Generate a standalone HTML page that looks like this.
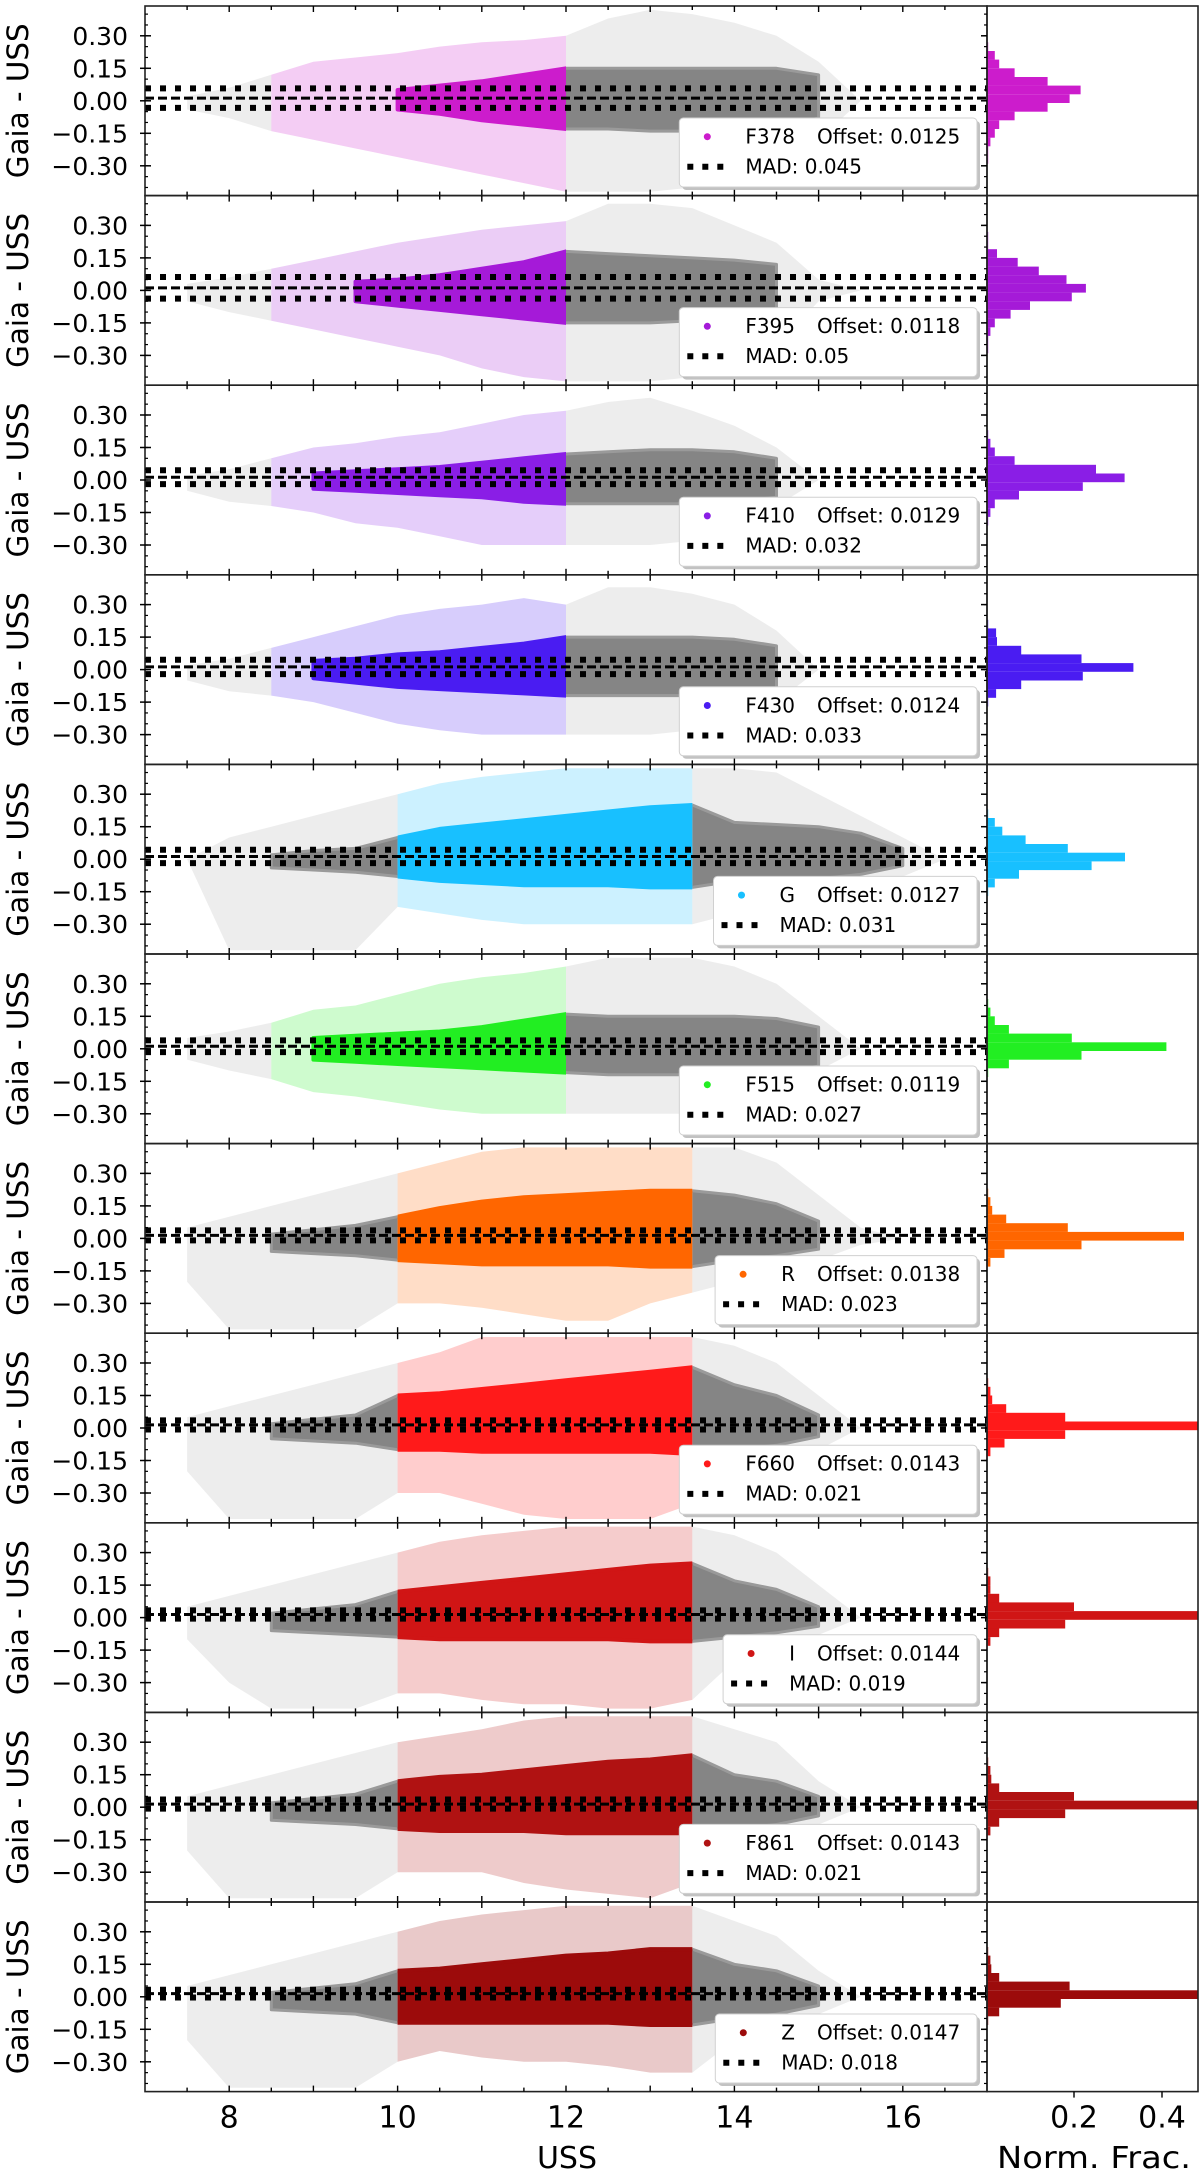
<!DOCTYPE html>
<html><head><meta charset="utf-8"><title>Gaia - USS residuals</title>
<style>
html,body{margin:0;padding:0;background:#fff;}
svg{display:block;font-family:"DejaVu Sans","Liberation Sans",sans-serif;}
</style></head>
<body>
<svg id="fig" width="1200" height="2175" viewBox="0 0 1200 2175" xmlns="http://www.w3.org/2000/svg">
<rect x="0" y="0" width="1200" height="2175" fill="#fff"/>
</svg>
<script>
const bands = ["F378","F395","F410","F430","G","F515","R","F660","I","F861","Z"];
const bandColors = ["#cc1ccc","#a51ad8","#8a1ee6","#4a1cf2","#18c0ff","#22ee22","#ff6600","#ff1a1a","#d01515","#b01212","#9c0b0b"];
const offsets = [0.0125,0.0118,0.0129,0.0124,0.0127,0.0119,0.0138,0.0143,0.0144,0.0143,0.0147];
const mads = [0.045,0.05,0.032,0.033,0.031,0.027,0.023,0.021,0.019,0.021,0.018];
const colorLo = [8.5,8.5,8.5,8.5,10,8.5,10,10,10,10,10];
const colorHi = [12,12,12,12,13.5,12,13.5,13.5,13.5,13.5,13.5];
const magGrid = [7.5,8,8.5,9,9.5,10,10.5,11,11.5,12,12.5,13,13.5,14,14.5,15,15.5,16,16.5];
const n = null;
const coreHi = [
[n,n,n,n,n,.05,.07,.09,.12,.15,.15,.15,.15,.15,.15,.12,n,n,n],
[n,n,n,n,.04,.05,.07,.1,.13,.18,.17,.16,.15,.14,.12,n,n,n,n],
[n,n,n,.03,.04,.05,.06,.08,.1,.12,.13,.14,.14,.13,.1,n,n,n,n],
[n,n,n,.04,.05,.07,.08,.1,.12,.15,.15,.15,.15,.14,.11,n,n,n,n],
[n,n,.02,.04,.05,.1,.14,.16,.18,.2,.22,.24,.25,.17,.16,.15,.12,.05,n],
[n,n,n,.05,.06,.07,.08,.1,.13,.16,.15,.15,.15,.15,.14,.1,n,n,n],
[n,n,.02,.04,.06,.1,.14,.17,.19,.2,.21,.22,.22,.2,.16,.08,n,n,n],
[n,n,.02,.04,.06,.15,.16,.18,.2,.22,.24,.26,.28,.2,.15,.06,n,n,n],
[n,n,.02,.04,.06,.12,.14,.16,.18,.2,.22,.24,.25,.17,.13,.05,n,n,n],
[n,n,.02,.04,.06,.12,.14,.15,.17,.19,.21,.22,.24,.15,.12,.05,n,n,n],
[n,n,.02,.04,.06,.12,.13,.15,.17,.19,.2,.22,.22,.15,.12,.05,n,n,n]];
const coreLo = [
[n,n,n,n,n,-.04,-.06,-.09,-.11,-.13,-.13,-.14,-.14,-.13,-.12,-.08,n,n,n],
[n,n,n,n,-.05,-.07,-.09,-.11,-.13,-.15,-.15,-.15,-.14,-.13,-.1,n,n,n,n],
[n,n,n,-.04,-.05,-.06,-.07,-.08,-.1,-.11,-.11,-.11,-.11,-.1,-.08,n,n,n,n],
[n,n,n,-.04,-.06,-.08,-.09,-.1,-.11,-.12,-.12,-.12,-.12,-.11,-.09,n,n,n,n],
[n,n,-.04,-.05,-.06,-.08,-.1,-.11,-.12,-.12,-.12,-.13,-.13,-.1,-.1,-.09,-.07,-.03,n],
[n,n,n,-.05,-.06,-.07,-.08,-.09,-.1,-.11,-.12,-.12,-.12,-.12,-.11,-.08,n,n,n],
[n,n,-.06,-.07,-.08,-.1,-.11,-.12,-.12,-.12,-.12,-.13,-.13,-.1,-.08,-.05,n,n,n],
[n,n,-.05,-.06,-.07,-.1,-.1,-.11,-.11,-.11,-.11,-.11,-.12,-.1,-.08,-.04,n,n,n],
[n,n,-.06,-.07,-.08,-.09,-.1,-.1,-.1,-.1,-.1,-.11,-.11,-.09,-.07,-.04,n,n,n],
[n,n,-.06,-.07,-.08,-.1,-.11,-.11,-.11,-.12,-.12,-.12,-.12,-.1,-.08,-.04,n,n,n],
[n,n,-.06,-.07,-.08,-.12,-.12,-.12,-.12,-.12,-.12,-.13,-.13,-.1,-.08,-.04,n,n,n]];
const haloHi = [
[.02,.06,.12,.18,.2,.22,.25,.27,.28,.3,.38,.42,.4,.36,.3,.18,0,0,0],
[.03,.06,.1,.14,.18,.22,.25,.28,.3,.32,.4,.4,.38,.3,.22,.05,0,0,0],
[.02,.05,.1,.15,.17,.2,.22,.26,.3,.32,.36,.38,.32,.25,.15,0,0,0,0],
[.02,.05,.1,.15,.2,.25,.28,.3,.33,.3,.38,.38,.35,.3,.18,0,0,0,0],
[0,.1,.15,.2,.25,.3,.35,.38,.4,.42,.42,.42,.42,.42,.4,.3,.2,.1,0],
[.05,.08,.12,.18,.2,.25,.3,.33,.35,.38,.42,.42,.42,.38,.3,.15,0,0,0],
[.05,.1,.15,.2,.25,.3,.35,.4,.42,.42,.42,.42,.42,.42,.35,.2,.05,0,0],
[.05,.1,.15,.2,.25,.3,.35,.42,.42,.42,.42,.42,.42,.38,.3,.15,0,0,0],
[.05,.1,.15,.2,.25,.3,.35,.38,.4,.42,.42,.42,.42,.38,.3,.15,0,0,0],
[.05,.1,.15,.2,.25,.3,.33,.36,.4,.42,.42,.42,.42,.36,.3,.12,0,0,0],
[.05,.1,.15,.2,.25,.3,.35,.38,.4,.42,.42,.42,.42,.35,.28,.12,0,0,0]];
const haloLo = [
[-.04,-.08,-.14,-.18,-.22,-.26,-.3,-.34,-.38,-.42,-.42,-.42,-.4,-.35,-.28,-.18,0,0,0],
[-.05,-.1,-.14,-.18,-.22,-.26,-.3,-.36,-.4,-.42,-.42,-.42,-.4,-.34,-.26,-.05,0,0,0],
[-.05,-.1,-.12,-.15,-.2,-.22,-.26,-.3,-.3,-.3,-.3,-.3,-.28,-.2,-.12,0,0,0,0],
[-.05,-.1,-.12,-.15,-.2,-.25,-.28,-.3,-.3,-.3,-.3,-.3,-.28,-.22,-.15,0,0,0,0],
[0,-.42,-.42,-.42,-.42,-.22,-.25,-.28,-.3,-.3,-.3,-.3,-.3,-.25,-.2,-.15,-.12,-.08,0],
[-.05,-.1,-.14,-.2,-.22,-.25,-.28,-.3,-.3,-.3,-.3,-.3,-.3,-.25,-.2,-.1,0,0,0],
[-.2,-.42,-.42,-.42,-.42,-.3,-.3,-.32,-.35,-.38,-.38,-.3,-.25,-.2,-.15,-.1,-.03,0,0],
[-.2,-.42,-.42,-.42,-.42,-.3,-.3,-.35,-.4,-.42,-.42,-.42,-.35,-.2,-.15,-.1,0,0,0],
[-.1,-.3,-.42,-.42,-.42,-.35,-.35,-.38,-.4,-.4,-.42,-.42,-.38,-.2,-.15,-.08,0,0,0],
[-.2,-.42,-.42,-.42,-.42,-.3,-.3,-.3,-.35,-.38,-.4,-.42,-.35,-.2,-.15,-.08,0,0,0],
[-.2,-.42,-.42,-.42,-.42,-.3,-.25,-.28,-.3,-.3,-.32,-.35,-.35,-.2,-.15,-.08,0,0,0]];
const histCenters = [.25,.21,.17,.13,.09,.05,.01,-.03,-.07,-.11,-.15,-.19,-.23,-.27];
const histFrac = [
[.005,.02,.03,.065,.14,.215,.19,.14,.065,.03,.02,.01,.005,.005],
[.005,.005,.025,.072,.12,.183,.227,.195,.1,.056,.02,.01,.005,.005],
[.003,.005,.01,.02,.065,.25,.315,.22,.075,.02,.01,.005,.003,.003],
[.003,.005,.023,.025,.08,.217,.335,.22,.08,.023,.005,.003,.003,.003],
[.003,.005,.02,.037,.09,.186,.316,.24,.075,.02,.005,.003,.003,.003],
[.003,.005,.01,.02,.052,.195,.41,.217,.052,.005,.003,.003,.003,.003],
[.003,.005,.01,.014,.046,.186,.45,.217,.042,.01,.003,.003,.003,.003],
[.003,.005,.01,.014,.046,.18,.6,.18,.042,.01,.003,.003,.003,.003],
[.003,.005,.01,.01,.03,.2,.6,.18,.03,.01,.003,.003,.003,.003],
[.003,.005,.01,.012,.03,.2,.6,.18,.03,.01,.003,.003,.003,.003],
[.003,.005,.01,.012,.03,.19,.6,.17,.03,.005,.003,.003,.003,.003]];
const yTickVals = [0.30,0.15,0.00,-0.15,-0.30];
const yTickLabels = ["0.30","0.15","0.00","\u22120.15","\u22120.30"];
const xTickVals = [8,10,12,14,16];
const histTickVals = [0.2,0.4];

const NS = "http://www.w3.org/2000/svg";
const svg = document.getElementById("fig");
const L = 145, R = 987, HR = 1198, TOP = 6, PH = 189.6;
function xs(m){ return L + (m - 7) * (R - L) / 10; }
function ys(i, v){ return TOP + i*PH + PH/2 - v * (PH/0.875); }
function hx(f){ return 986 + f * 440; }
function mk(tag, attrs, parent){
  const e = document.createElementNS(NS, tag);
  for (const k in attrs) e.setAttribute(k, attrs[k]);
  (parent || svg).appendChild(e);
  return e;
}
const defs = mk("defs", {});

for (let i = 0; i < bands.length; i++){
  const top = TOP + i*PH, bot = top + PH;
  const g = mk("g", {});
  
  
  const cpCol = mk("clipPath", {id:"cc"+i}, defs);
  mk("rect", {x:xs(colorLo[i]), y:top, width:xs(colorHi[i])-xs(colorLo[i]), height:PH}, cpCol);
  const cpGray = mk("clipPath", {id:"cg"+i}, defs);
  mk("rect", {x:L, y:top, width:xs(colorLo[i])-L, height:PH}, cpGray);
  mk("rect", {x:xs(colorHi[i]), y:top, width:R-xs(colorHi[i]), height:PH}, cpGray);
  const cpHist = mk("clipPath", {id:"ch"+i}, defs);
  mk("rect", {x:R, y:top, width:HR-R, height:PH}, cpHist);

  function band(hiArr, loArr){
    const up = [], dn = [];
    for (let k = 0; k < magGrid.length; k++){
      if (hiArr[k] === null || loArr[k] === null) continue;
      up.push([xs(magGrid[k]), ys(i, hiArr[k])]);
      dn.push([xs(magGrid[k]), ys(i, loArr[k])]);
    }
    if (!up.length) return "";
    const pts = up.concat(dn.reverse());
    return "M" + pts.map(p => p[0].toFixed(1) + "," + p[1].toFixed(1)).join("L") + "Z";
  }
  const haloD = band(haloHi[i], haloLo[i]);
  const coreD = band(coreHi[i], coreLo[i]);
  const gGray = mk("g", {"clip-path":"url(#cg"+i+")"}, g);
  const gh = mk("path", {d:haloD, fill:"#c4c4c4", opacity:"0.3"}, gGray);
  
  
  const gc = mk("path", {d:coreD, fill:"#858585", stroke:"#9a9a9a", "stroke-width":"3", "stroke-linejoin":"round"}, gGray);
  
  
  const gCol = mk("g", {"clip-path":"url(#cc"+i+")"}, g);
  const ch = mk("path", {d:haloD, fill:bandColors[i], opacity:"0.22"}, gCol);
  
  
  const cc = mk("path", {d:coreD, fill:bandColors[i], stroke:bandColors[i], "stroke-width":"4", "stroke-linejoin":"round"}, gCol);
  
  

  const up = ys(i, offsets[i] + mads[i]), lo = ys(i, offsets[i] - mads[i]), mid = ys(i, offsets[i]);
  const l1 = mk("line", {x1:L, x2:R, y1:up, y2:up, stroke:"#000", "stroke-width":"6", "stroke-dasharray":"6,9"}, g);
  
  
  const l2 = mk("line", {x1:L, x2:R, y1:lo, y2:lo, stroke:"#000", "stroke-width":"6", "stroke-dasharray":"6,9"}, g);
  
  
  const l3 = mk("line", {x1:L, x2:R, y1:mid, y2:mid, stroke:"#000", "stroke-width":"3", "stroke-dasharray":"9,4"}, g);
  
  

  const hg = mk("g", {"clip-path":"url(#ch"+i+")"}, g);
  const bw = 0.04 * PH / 0.875;
  for (let k = 0; k < histCenters.length; k++){
    const yc = ys(i, histCenters[k]);
    const b = mk("rect", {x:R, y:(yc - bw/2).toFixed(1), width:(hx(histFrac[i][k]) - R).toFixed(1), height:bw.toFixed(1), fill:bandColors[i]}, hg);
    
    
  }

  const fr = mk("rect", {x:L, y:top, width:R-L, height:PH, fill:"none", stroke:"#222", "stroke-width":"1.6"}, g);
  
  
  const hf = mk("rect", {x:R, y:top, width:HR-R, height:PH, fill:"none", stroke:"#222", "stroke-width":"1.6"}, g);
  
  

  for (let k = 0; k < yTickVals.length; k++){
    const y = ys(i, yTickVals[k]);
    mk("line", {x1:L-5, x2:L+6, y1:y, y2:y, stroke:"#000", "stroke-width":"1.5"}, g);
    mk("line", {x1:R-6, x2:R, y1:y, y2:y, stroke:"#000", "stroke-width":"1.5"}, g);
    const t = mk("text", {x:128, y:(y+9).toFixed(1), "font-size":"25", "text-anchor":"end", fill:"#000"}, g);
    t.textContent = yTickLabels[k];
    
    
  }
  for (let v = -0.4; v <= 0.41; v += 0.05){
    const y = ys(i, v);
    mk("line", {x1:L, x2:L+3, y1:y, y2:y, stroke:"#000", "stroke-width":"1.2"}, g);
    mk("line", {x1:R-3, x2:R, y1:y, y2:y, stroke:"#000", "stroke-width":"1.2"}, g);
  }
  for (let m = 7.5; m < 17; m += 0.5){
    const x = xs(m), len = (m % 1 === 0) ? 6 : 4;
    mk("line", {x1:x, x2:x, y1:bot-len, y2:bot, stroke:"#000", "stroke-width":"1.4"}, g);
    mk("line", {x1:x, x2:x, y1:top, y2:top+len, stroke:"#000", "stroke-width":"1.4"}, g);
  }
  const yt = mk("text", {x:0, y:0, "font-size":"29", "text-anchor":"middle", transform:"translate(28,"+(top+PH/2).toFixed(1)+") rotate(-90)", fill:"#000", textLength:"155", lengthAdjust:"spacingAndGlyphs"}, g);
  yt.textContent = "Gaia - USS";
  
  

  const lg = mk("g", {}, g);
  
  
  const shadow = mk("rect", {x:0, y:top+115, width:10, height:69, rx:4, fill:"#9a9a9a", opacity:"0.6"}, lg);
  const box = mk("rect", {x:0, y:top+112, width:10, height:69, rx:4, fill:"#fff", stroke:"#d0d0d0", "stroke-width":"1"}, lg);
  const nm = mk("text", {x:795, y:top+137.5, "font-size":"20", "text-anchor":"end", fill:"#000"}, lg);
  nm.textContent = bands[i];
  
  
  const off = mk("text", {x:817, y:top+137.5, "font-size":"20", fill:"#000"}, lg);
  off.textContent = "Offset: " + offsets[i].toFixed(4);
  
  
  let w = 15.5 * bands[i].length;
  try { w = nm.getComputedTextLength(); } catch(e){}
  const S = 795 - w;
  const mad = mk("text", {x:S, y:top+167.5, "font-size":"20", fill:"#000"}, lg);
  mad.textContent = "MAD: " + String(mads[i]);
  
  
  const dot = mk("circle", {cx:S-38, cy:top+130.7, r:3.5, fill:bandColors[i]}, lg);
  
  
  const dl = mk("line", {x1:S-58, x2:S-20, y1:top+160.7, y2:top+160.7, stroke:"#000", "stroke-width":"6", "stroke-dasharray":"6,9"}, lg);
  
  
  const bx = S - 66;
  box.setAttribute("x", bx); box.setAttribute("width", 977 - bx);
  shadow.setAttribute("x", bx + 3); shadow.setAttribute("width", 977 - bx);
}

const bottom = TOP + bands.length * PH;
for (let k = 0; k < xTickVals.length; k++){
  const t = mk("text", {x:xs(xTickVals[k]), y:bottom+36, "font-size":"30", "text-anchor":"middle", fill:"#000"});
  t.textContent = String(xTickVals[k]);
  
  
}
for (let k = 0; k < histTickVals.length; k++){
  const x = hx(histTickVals[k]);
  mk("line", {x1:x, x2:x, y1:bottom, y2:bottom+6, stroke:"#000", "stroke-width":"1.4"});
  const t = mk("text", {x:x, y:bottom+36, "font-size":"30", "text-anchor":"middle", fill:"#000"});
  t.textContent = String(histTickVals[k]);
  
  
}
const xt = mk("text", {x:567, y:2168, "font-size":"30", "text-anchor":"middle", fill:"#000"});
xt.textContent = "USS";


const ht = mk("text", {x:1094, y:2168, "font-size":"30", "text-anchor":"middle", fill:"#000", textLength:"194", lengthAdjust:"spacingAndGlyphs"});
ht.textContent = "Norm. Frac.";


</script>
</body></html>
